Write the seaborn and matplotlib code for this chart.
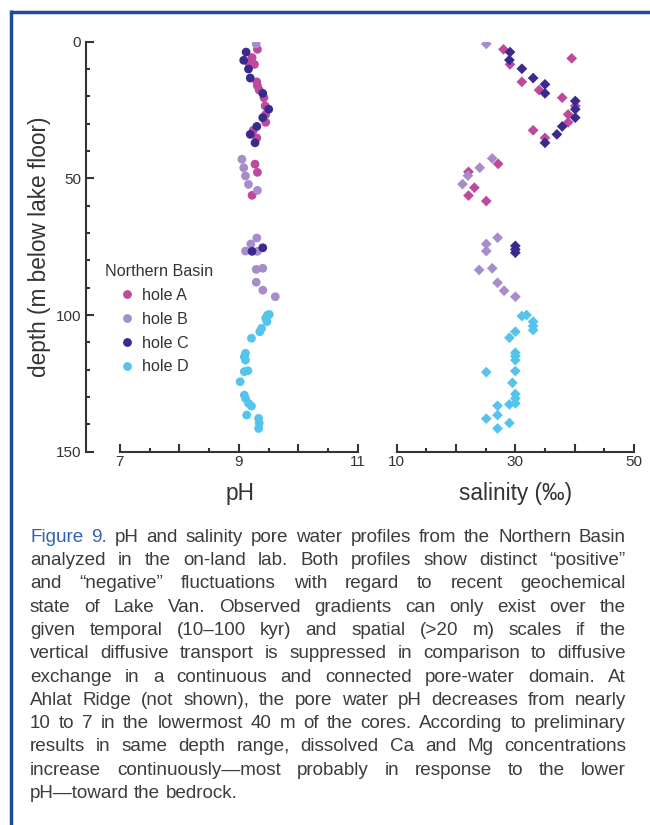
import matplotlib
matplotlib.use("Agg")
import matplotlib.pyplot as plt
from matplotlib.lines import Line2D
from matplotlib.font_manager import FontProperties
import numpy as np
import pandas as pd
import seaborn as sns

# ---------------- data ----------------
hole_names = ["hole A", "hole B", "hole C", "hole D"]
hole_colors = ["#bd4a9c", "#a68dca", "#3b2a8e", "#55c4ed"]

# pH profile
ph_A_depth = [2.8, 5.8, 7.9, 8.3, 14.7, 16.1, 17.7, 20.5, 23.5, 26.6, 29.5, 32.4, 35.2, 44.8, 47.8, 56.2]
ph_A = [9.31, 9.22, 9.17, 9.26, 9.30, 9.31, 9.34, 9.42, 9.44, 9.45, 9.45, 9.24, 9.30, 9.27, 9.31, 9.22]
ph_B_depth = [0.8, 43.0, 46.1, 49.1, 52.2, 54.4, 71.8, 74.0, 76.6, 76.7, 82.9, 83.3, 88.0, 90.9, 93.3]
ph_B = [9.29, 9.05, 9.08, 9.11, 9.16, 9.31, 9.30, 9.20, 9.11, 9.31, 9.40, 9.29, 9.29, 9.40, 9.61]
ph_C_depth = [3.8, 6.8, 10.0, 13.3, 18.9, 24.7, 27.8, 31.0, 33.9, 37.0, 75.4, 76.7]
ph_C = [9.12, 9.08, 9.16, 9.19, 9.40, 9.50, 9.40, 9.30, 9.19, 9.27, 9.40, 9.22]
ph_D_depth = [99.8, 100.0, 101.2, 102.4, 104.9, 106.1, 108.5, 114.0, 115.3, 116.5, 120.4, 120.7,
              124.4, 129.3, 130.5, 132.3, 133.3, 136.6, 137.8, 139.6, 141.5]
ph_D = [9.51, 9.48, 9.45, 9.47, 9.38, 9.35, 9.21, 9.11, 9.09, 9.11, 9.15, 9.09,
        9.02, 9.09, 9.11, 9.16, 9.21, 9.13, 9.33, 9.34, 9.33]

# salinity profile (permil)
sal_A_depth = [2.8, 6.1, 8.3, 14.7, 17.7, 20.5, 23.5, 26.6, 29.5, 32.4, 35.2, 44.7, 47.6, 53.4, 56.3, 58.3]
sal_A = [28.0, 39.5, 29.1, 31.1, 34.0, 37.9, 40.1, 38.9, 38.9, 33.0, 35.0, 27.1, 22.1, 23.1, 22.1, 25.1]
sal_B_depth = [0.8, 42.7, 46.1, 49.0, 52.1, 71.7, 74.0, 76.6, 82.9, 83.5, 88.2, 91.1, 93.3]
sal_B = [25.1, 26.1, 24.0, 22.0, 21.1, 27.0, 25.1, 25.1, 26.1, 23.9, 27.0, 28.1, 30.0]
sal_C_depth = [3.8, 6.7, 9.9, 13.3, 15.6, 18.9, 21.7, 24.7, 27.8, 31.0, 33.9, 37.0, 74.7, 76.0, 77.2]
sal_C = [29.1, 29.0, 31.1, 33.0, 35.0, 35.0, 40.1, 40.1, 40.1, 37.9, 37.0, 35.0, 30.0, 30.0, 30.0]
sal_D_depth = [100.0, 100.4, 102.4, 104.0, 105.5, 106.1, 108.3, 113.8, 115.0, 116.5, 120.5, 120.9,
               124.8, 128.9, 130.5, 132.3, 132.7, 133.2, 136.6, 137.9, 139.5, 141.5]
sal_D = [31.9, 31.1, 33.0, 33.0, 33.0, 30.0, 29.0, 30.0, 30.0, 30.0, 30.0, 25.1,
         29.5, 30.0, 30.0, 30.0, 29.0, 27.0, 27.0, 25.1, 29.0, 27.0]

ph_ticks = [7, 8, 9, 10, 11]
ph_ticklabels = ["7", "", "9", "", "11"]
sal_ticks = [10, 20, 30, 40, 50]
sal_ticklabels = ["10", "", "30", "", "50"]
depth_ticks = [0, 50, 100, 150]

legend_title = "Northern Basin"
xlabel_ph = "pH"
xlabel_sal = "salinity (‰)"
ylabel = "depth (m below lake floor)"

caption_lines = [
    "Figure 9. pH and salinity pore water profiles from the Northern Basin",
    "analyzed in the on-land lab. Both profiles show distinct “positive”",
    "and “negative” fluctuations with regard to recent geochemical",
    "state of Lake Van. Observed gradients can only exist over the",
    "given temporal (10–100 kyr) and spatial (>20 m) scales if the",
    "vertical diffusive transport is suppressed in comparison to diffusive",
    "exchange in a continuous and connected pore-water domain. At",
    "Ahlat Ridge (not shown), the pore water pH decreases from nearly",
    "10 to 7 in the lowermost 40 m of the cores. According to preliminary",
    "results in same depth range, dissolved Ca and Mg concentrations",
    "increase continuously—most probably in response to the lower",
    "pH—toward the bedrock.",
]
caption_blue_words = 2  # "Figure 9."

# ---------------- tables ----------------
ph_df = pd.concat([
    pd.DataFrame({"pH": v, "depth": d, "hole": h})
    for v, d, h in [(ph_A, ph_A_depth, hole_names[0]), (ph_B, ph_B_depth, hole_names[1]),
                    (ph_C, ph_C_depth, hole_names[2]), (ph_D, ph_D_depth, hole_names[3])]
], ignore_index=True)
sal_df = pd.concat([
    pd.DataFrame({"salinity": v, "depth": d, "hole": h})
    for v, d, h in [(sal_A, sal_A_depth, hole_names[0]), (sal_B, sal_B_depth, hole_names[1]),
                    (sal_C, sal_C_depth, hole_names[2]), (sal_D, sal_D_depth, hole_names[3])]
], ignore_index=True)
palette = dict(zip(hole_names, hole_colors))

# ---------------- style ----------------
sns.set_theme(style="ticks")
plt.rcParams["font.family"] = ["Liberation Sans", "DejaVu Sans"]
ink = "#333333"
plt.rcParams.update({
    "axes.edgecolor": ink, "axes.labelcolor": ink, "xtick.color": ink, "ytick.color": ink,
    "text.color": ink,
})

W, H = 650.0, 825.0
fig = plt.figure(figsize=(6.5, 8.25), dpi=100)
fig.patch.set_facecolor("white")


def rect(x0, y0, x1, y1):
    return [x0 / W, 1 - y1 / H, (x1 - x0) / W, (y1 - y0) / H]


ax1 = fig.add_axes(rect(86, 41.7, 358, 451.7))
ax2 = fig.add_axes(rect(396.7, 41.7, 634, 451.7))
for ax in (ax1, ax2):
    ax.set_facecolor("none")

sns.scatterplot(data=ph_df, x="pH", y="depth", hue="hole", hue_order=hole_names, palette=palette,
                marker="o", s=40, linewidth=0, ax=ax1, legend=True)
sns.scatterplot(data=sal_df, x="salinity", y="depth", hue="hole", hue_order=hole_names, palette=palette,
                marker="D", s=30, linewidth=0, ax=ax2, legend=False)

# left panel axes
ax1.set_xlim(6.43, 11.0)
ax1.set_ylim(150, 0)
ax1.spines["top"].set_visible(False)
ax1.spines["right"].set_visible(False)
ax1.spines["left"].set_bounds(0, 150)
ax1.spines["bottom"].set_bounds(7, 11)
ax1.set_xticks(ph_ticks)
ax1.set_xticklabels(ph_ticklabels)
ax1.set_xticks(np.arange(7.5, 11, 1.0), minor=True)
ax1.set_yticks(depth_ticks)
ax1.set_yticks(np.arange(10, 150, 10), minor=True)

# right panel axes
ax2.set_xlim(10, 50)
ax2.set_ylim(150, 0)
for s in ("top", "right", "left"):
    ax2.spines[s].set_visible(False)
ax2.spines["bottom"].set_bounds(10, 50)
ax2.set_xticks(sal_ticks)
ax2.set_xticklabels(sal_ticklabels)
ax2.set_xticks(np.arange(15, 50, 10), minor=True)
ax2.set_yticks([])

for ax in (ax1, ax2):
    for s in ax.spines.values():
        s.set_linewidth(1.5)
    ax.tick_params(which="major", direction="in", length=5.5, width=1.5, labelsize=11, pad=2.2)
    ax.tick_params(which="minor", direction="in", length=3, width=1.5)
ax1.tick_params(axis="y", which="major", pad=3.6)

ax1.set_xlabel(xlabel_ph, fontsize=16.3)
ax1.xaxis.set_label_coords((240 - 86) / 272, 1 - (482 - 41.7) / 410)
ax2.set_xlabel(xlabel_sal, fontsize=16.3)
ax2.xaxis.set_label_coords((516 - 396.7) / 237.3, 1 - (482 - 41.7) / 410)
ax1.set_ylabel(ylabel, fontsize=16.3)
ax1.yaxis.set_label_coords((51 - 86) / 272, 0.5)
ax2.set_ylabel("")

# legend
handles, labels = ax1.get_legend_handles_labels()
leg = ax1.legend(handles, labels, title=legend_title, loc="upper left",
                 bbox_to_anchor=((105.0 - 86) / 272, 1 - (264.0 - 41.7) / 410),
                 frameon=False, fontsize=11.6, title_fontsize=11.6, borderpad=0, borderaxespad=0,
                 handlelength=2.73, handletextpad=-0.45, labelspacing=0.55, alignment="left",
                 markerscale=1.0)

# frame
frame_blue = "#1f4a9b"
fig.add_artist(Line2D([9.5 / W, 1.0], [1 - 11.5 / H, 1 - 11.5 / H], transform=fig.transFigure,
                      color=frame_blue, lw=2.5, solid_capstyle="butt"))
fig.add_artist(Line2D([11 / W, 11 / W], [1 - 10 / H, 0.0], transform=fig.transFigure,
                      color=frame_blue, lw=2.5, solid_capstyle="butt"))

# caption, justified word by word
cap_left, cap_right = 30.0, 626.0
cap_base0, cap_step = 541.7, 23.3
cap_color = "#3c3c3c"
fig_blue = "#3462ae"
fig.canvas.draw()
renderer = fig.canvas.get_renderer()
base_size = 13.6
prop = FontProperties(family=["Liberation Sans", "DejaVu Sans"], size=base_size)


def wwidth(word, size):
    p = prop.copy()
    p.set_size(size)
    w, h, d = renderer.get_text_width_height_descent(word, p, ismath=False)
    return w

space_w = wwidth("a a", base_size) - wwidth("aa", base_size)
scale = 1.0
for line in caption_lines[:-1]:
    words = line.split(" ")
    need = sum(wwidth(w, base_size) for w in words) + (len(words) - 1) * space_w * 0.9
    scale = min(scale, (cap_right - cap_left) / need)
size = base_size * scale

wi = 0
for li, line in enumerate(caption_lines):
    words = line.split(" ")
    widths = [wwidth(w, size) for w in words]
    if li < len(caption_lines) - 1 and len(words) > 1:
        gap = (cap_right - cap_left - sum(widths)) / (len(words) - 1)
    else:
        gap = space_w * scale
    x = cap_left
    yb = cap_base0 + li * cap_step
    for w, ww in zip(words, widths):
        col = fig_blue if wi < caption_blue_words else cap_color
        fig.text(x / W, 1 - yb / H, w, fontsize=size, color=col, va="baseline", ha="left",
                 family=["Liberation Sans", "DejaVu Sans"])
        x += ww + gap
        wi += 1

fig.savefig("out.png", dpi=100, facecolor="white")
